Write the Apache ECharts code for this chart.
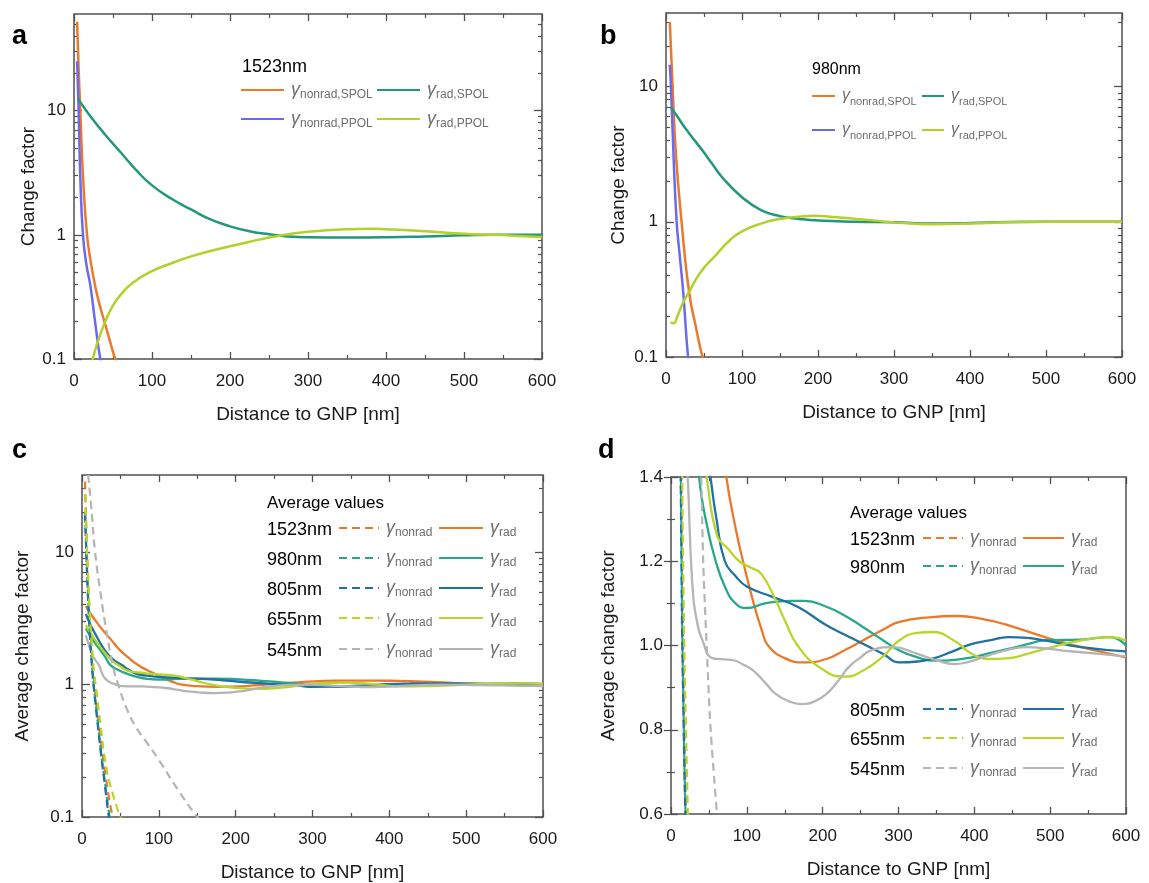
<!DOCTYPE html>
<html><head><meta charset="utf-8">
<script src="https://cdn.jsdelivr.net/npm/echarts@6/dist/echarts.min.js"></script>
<style>html,body{margin:0;padding:0;background:#fff}#c{width:1149px;height:883px}</style>
</head><body><div id="c"></div>
<script>
// ---------- tick labels ----------
const xTickLabels = [0, 100, 200, 300, 400, 500, 600];
const logMajorTicks = [0.1, 1, 10];
const logMinorTicks = [0.2,0.3,0.4,0.5,0.6,0.7,0.8,0.9,2,3,4,5,6,7,8,9,20,30,40,50];
const linTickLabels = [0.6, 0.8, 1.0, 1.2, 1.4];

// ---------- panel a (1523nm) ----------
const aNonradS_x = [4, 6, 8, 11.5, 16.7, 22, 27, 33, 39, 46, 53, 60];
const aNonradS_y = [52, 21, 10.3, 3.0, 1.0, 0.58, 0.39, 0.27, 0.2, 0.14, 0.1, 0.08];
const aNonradP_x = [4, 6, 8, 11.5, 16, 21, 27, 33.7, 40];
const aNonradP_y = [25, 10, 3.0, 1.0, 0.57, 0.39, 0.2, 0.1, 0.065];
const aRadS_x = [5, 20, 40, 60, 80, 100, 125, 150, 175, 200, 225, 250, 275, 300, 350, 400, 450, 500, 550, 600];
const aRadS_y = [12.5, 9.2, 6.4, 4.6, 3.3, 2.5, 1.95, 1.6, 1.33, 1.17, 1.07, 1.01, 0.97, 0.955, 0.95, 0.955, 0.97, 0.99, 1.0, 1.0];
const aRadP_x = [20, 24, 30, 40, 50, 60, 75, 100, 125, 150, 175, 200, 225, 250, 275, 300, 350, 380, 400, 450, 500, 540, 570, 600];
const aRadP_y = [0.075, 0.1, 0.135, 0.2, 0.27, 0.33, 0.41, 0.51, 0.59, 0.67, 0.74, 0.81, 0.88, 0.95, 1.01, 1.06, 1.11, 1.12, 1.11, 1.07, 1.02, 1.0, 0.98, 0.96];

// ---------- panel b (980nm) ----------
const bNonradS_x = [5, 8.7, 13, 20.5, 30.5, 40, 48, 55];
const bNonradS_y = [30, 10, 3.2, 1.0, 0.3, 0.16, 0.1, 0.075];
const bNonradP_x = [5, 6.5, 10, 14, 18, 22.7, 29, 34];
const bNonradP_y = [14.5, 10, 3.0, 1.0, 0.57, 0.3, 0.1, 0.06];
const bRadS_x = [6, 15, 25, 40, 50, 60, 75, 100, 125, 150, 175, 200, 250, 300, 350, 400, 450, 500, 600];
const bRadS_y = [7.1, 6.0, 4.95, 3.85, 3.25, 2.72, 2.1, 1.52, 1.22, 1.1, 1.05, 1.02, 1.0, 0.99, 0.97, 0.98, 0.995, 1.0, 1.0];
const bRadP_x = [6, 10, 15, 22, 30, 45, 66, 85, 100, 125, 150, 175, 195, 225, 250, 275, 300, 350, 400, 450, 500, 600];
const bRadP_y = [0.18, 0.178, 0.2, 0.25, 0.3, 0.42, 0.57, 0.74, 0.85, 0.97, 1.05, 1.09, 1.11, 1.08, 1.05, 1.02, 0.99, 0.96, 0.97, 0.99, 1.0, 1.0];

// ---------- panels c & d (averages) ----------
const n1523_x = [4, 6, 8, 10, 12, 14, 16, 20, 25, 30, 35, 40, 45];
const n1523_y = [34, 13, 6, 3.2, 2.0, 1.35, 1.0, 0.6, 0.36, 0.22, 0.14, 0.1, 0.075];
const n980_x = [4, 6, 8, 10, 12, 14, 16, 20, 25, 30, 36, 40];
const n980_y = [20, 9, 4.5, 2.6, 1.7, 1.2, 0.9, 0.55, 0.3, 0.18, 0.1, 0.075];
const n805_x = [4, 6, 8, 10, 12, 14, 16, 20, 25, 30, 35, 40];
const n805_y = [19, 8.5, 4.3, 2.5, 1.65, 1.15, 0.88, 0.53, 0.29, 0.17, 0.1, 0.07];
const n655_x = [4, 6, 8, 10, 12, 14, 16, 20, 25, 30, 35, 40, 45, 50, 55];
const n655_y = [27, 12, 6.2, 3.6, 2.3, 1.6, 1.2, 0.78, 0.45, 0.27, 0.19, 0.15, 0.12, 0.1, 0.085];
const n545_x = [8, 12, 17, 25, 33, 40, 47, 58, 69, 85, 100, 125, 150, 165];
const n545_y = [38, 22, 10, 4.5, 2.3, 1.4, 1.0, 0.66, 0.49, 0.36, 0.27, 0.16, 0.1, 0.08];

const r1523_x = [5, 10, 20, 30, 40, 50, 60, 73, 85, 95, 109, 120, 128, 150, 176, 205, 230, 253, 280, 301, 340, 378, 410, 445, 493, 541, 600];
const r1523_y = [3.9, 3.5, 2.9, 2.45, 2.1, 1.8, 1.6, 1.4, 1.28, 1.2, 1.1, 1.035, 1.0, 0.97, 0.96, 0.968, 0.99, 1.012, 1.038, 1.056, 1.067, 1.07, 1.063, 1.048, 1.02, 0.996, 0.972];
const r980_x = [5, 10, 20, 30, 37, 48, 59, 71, 85, 100, 124, 157, 176, 205, 230, 253, 280, 301, 325, 349, 375, 397, 420, 445, 470, 493, 541, 579, 600];
const r980_y = [2.65, 2.35, 1.95, 1.62, 1.4, 1.28, 1.2, 1.14, 1.1, 1.089, 1.1, 1.106, 1.106, 1.092, 1.07, 1.044, 1.012, 0.988, 0.972, 0.964, 0.966, 0.972, 0.982, 0.992, 1.003, 1.012, 1.014, 1.02, 1.0];
const r805_x = [5, 10, 20, 30, 40, 52, 60, 71, 85, 100, 133, 167, 205, 230, 253, 280, 301, 325, 344, 370, 397, 420, 445, 470, 493, 541, 600];
const r805_y = [3.4, 2.9, 2.25, 1.8, 1.55, 1.4, 1.3, 1.2, 1.165, 1.14, 1.116, 1.092, 1.048, 1.025, 1.004, 0.98, 0.96, 0.962, 0.968, 0.985, 1.004, 1.012, 1.02, 1.018, 1.012, 0.996, 0.986];
const r655_x = [5, 10, 20, 30, 40, 47, 61, 75, 90, 105, 119, 138, 150, 167, 196, 229, 253, 280, 301, 325, 344, 373, 397, 420, 445, 470, 493, 541, 579, 600];
const r655_y = [2.8, 2.5, 2.05, 1.72, 1.5, 1.4, 1.26, 1.23, 1.2, 1.185, 1.17, 1.108, 1.06, 1.0, 0.948, 0.926, 0.94, 0.975, 1.012, 1.03, 1.032, 1.012, 0.98, 0.968, 0.97, 0.98, 0.992, 1.012, 1.02, 1.012];
const r545_x = [5, 10, 15, 22, 28, 35, 44, 50, 61, 80, 95, 109, 125, 138, 155, 172, 190, 205, 220, 234, 250, 263, 292, 325, 350, 373, 390, 411, 440, 469, 517, 565, 600];
const r545_y = [2.35, 1.9, 1.6, 1.4, 1.15, 1.05, 1.0, 0.975, 0.968, 0.966, 0.955, 0.94, 0.91, 0.885, 0.868, 0.861, 0.868, 0.885, 0.915, 0.948, 0.972, 0.988, 0.996, 0.98, 0.965, 0.956, 0.96, 0.972, 0.988, 0.996, 0.988, 0.98, 0.974];

// ---------- styles ----------
const FONT = "'Liberation Sans', Arial, sans-serif";
const C = {orange:'#ea7a2b', teal:'#22977c', violet:'#6a6af0', lime:'#b3d12a',
           teal2:'#28a88a', blue2:'#1f72a2', lime2:'#b9d52c', gray:'#b5b5b5'};
const TXT = '#1a1a1a', AX = '#505050';

const panels = [
  {left:74,  top:14,  width:468, height:345, kind:'log', max:60, yName:'Change factor', yGap:36},
  {left:666, top:13,  width:456, height:344, kind:'log', max:35, yName:'Change factor', yGap:38},
  {left:82,  top:475, width:461, height:346, kind:'log', max:38, yName:'Average change factor', yGap:50},
  {left:671, top:477, width:455, height:337, kind:'lin', min:0.6, max:1.4, yName:'Average change factor', yGap:53}
];

const grid = [], xAxis = [], yAxis = [], yMain = [];
panels.forEach((p, i) => {
  grid.push({left:p.left, top:p.top, width:p.width, height:p.height, show:true,
             borderColor:AX, borderWidth:1.5, backgroundColor:'rgba(0,0,0,0)'});
  const xBase = {gridIndex:i, type:'value', min:0, max:600, interval:100,
    axisLine:{show:false}, splitLine:{show:false},
    axisTick:{inside:true, length:7, lineStyle:{color:AX, width:1.3}},
    minorTick:{show:true, splitNumber:2, length:4, lineStyle:{color:AX, width:1.2}}};
  xAxis.push(Object.assign({}, xBase, {position:'bottom',
    axisLabel:{fontSize:17, color:TXT, fontFamily:FONT, margin:14},
    name:'Distance to GNP [nm]', nameLocation:'middle', nameGap:46,
    nameTextStyle:{fontSize:19, color:TXT, fontFamily:FONT}}));
  xAxis.push(Object.assign({}, xBase, {position:'top', axisLabel:{show:false}}));
  if (p.kind === 'log') {
    const minor = logMinorTicks.filter(v => v < p.max);
    const base = {gridIndex:i, type:'log', logBase:10, min:0.1, max:p.max,
      axisLine:{show:false}, splitLine:{show:false}, minorTick:{show:false}};
    yMain.push(yAxis.length);
    yAxis.push(Object.assign({}, base, {position:'left',
      axisTick:{inside:true, length:8, customValues:logMajorTicks, lineStyle:{color:AX, width:1.3}},
      axisLabel:{customValues:logMajorTicks, fontSize:17, color:TXT, fontFamily:FONT, margin:8,
                 formatter: v => String(+(+v).toPrecision(3))},
      name:p.yName, nameLocation:'middle', nameGap:p.yGap,
      nameTextStyle:{fontSize:19, color:TXT, fontFamily:FONT}}));
    yAxis.push(Object.assign({}, base, {position:'left', axisLabel:{show:false},
      axisTick:{inside:true, length:4, customValues:minor, lineStyle:{color:AX, width:1.2}}}));
    yAxis.push(Object.assign({}, base, {position:'right', axisLabel:{show:false},
      axisTick:{inside:true, length:8, customValues:logMajorTicks, lineStyle:{color:AX, width:1.3}}}));
    yAxis.push(Object.assign({}, base, {position:'right', axisLabel:{show:false},
      axisTick:{inside:true, length:4, customValues:minor, lineStyle:{color:AX, width:1.2}}}));
  } else {
    const base = {gridIndex:i, type:'value', min:p.min, max:p.max, interval:0.2,
      axisLine:{show:false}, splitLine:{show:false},
      axisTick:{inside:true, length:7, lineStyle:{color:AX, width:1.3}},
      minorTick:{show:true, splitNumber:2, length:4, lineStyle:{color:AX, width:1.2}}};
    yMain.push(yAxis.length);
    yAxis.push(Object.assign({}, base, {position:'left',
      axisLabel:{fontSize:17, color:TXT, fontFamily:FONT, margin:8, formatter: v => (+v).toFixed(1)},
      name:p.yName, nameLocation:'middle', nameGap:p.yGap,
      nameTextStyle:{fontSize:19, color:TXT, fontFamily:FONT}}));
    yAxis.push(Object.assign({}, base, {position:'right', axisLabel:{show:false}}));
  }
});

const pair = (xs, ys) => xs.map((x, k) => [x, ys[k]]);
const DASH = [8, 5];
const specs = [
  {name:'a-nonrad-SPOL', p:0, xs:aNonradS_x, ys:aNonradS_y, color:C.orange, w:2.5},
  {name:'a-nonrad-PPOL', p:0, xs:aNonradP_x, ys:aNonradP_y, color:C.violet, w:2.5},
  {name:'a-rad-SPOL',    p:0, xs:aRadS_x, ys:aRadS_y, color:C.teal, w:2.5},
  {name:'a-rad-PPOL',    p:0, xs:aRadP_x, ys:aRadP_y, color:C.lime, w:2.5},
  {name:'b-nonrad-SPOL', p:1, xs:bNonradS_x, ys:bNonradS_y, color:C.orange, w:2.5},
  {name:'b-nonrad-PPOL', p:1, xs:bNonradP_x, ys:bNonradP_y, color:C.violet, w:2.5},
  {name:'b-rad-SPOL',    p:1, xs:bRadS_x, ys:bRadS_y, color:C.teal, w:2.5},
  {name:'b-rad-PPOL',    p:1, xs:bRadP_x, ys:bRadP_y, color:C.lime, w:2.5}
];
const avg = [
  {wl:'1523', nx:n1523_x, ny:n1523_y, rx:r1523_x, ry:r1523_y, color:C.orange},
  {wl:'980',  nx:n980_x,  ny:n980_y,  rx:r980_x,  ry:r980_y,  color:C.teal2},
  {wl:'805',  nx:n805_x,  ny:n805_y,  rx:r805_x,  ry:r805_y,  color:C.blue2},
  {wl:'655',  nx:n655_x,  ny:n655_y,  rx:r655_x,  ry:r655_y,  color:C.lime2},
  {wl:'545',  nx:n545_x,  ny:n545_y,  rx:r545_x,  ry:r545_y,  color:C.gray}
];
[2, 3].forEach(p => {
  const tag = p === 2 ? 'c' : 'd';
  avg.forEach(s => {
    specs.push({name:tag + '-' + s.wl + '-nonrad', p, xs:s.nx, ys:s.ny, color:s.color, w:2.2, dash:true});
    specs.push({name:tag + '-' + s.wl + '-rad', p, xs:s.rx, ys:s.ry, color:s.color, w:2.3});
  });
});
const series = specs.map(s => ({
  name:s.name, type:'line', xAxisIndex:s.p * 2, yAxisIndex:yMain[s.p],
  data:pair(s.xs, s.ys), showSymbol:false, symbol:'none', smooth:0.5,
  clip:true, z: s.dash ? 3 : 2, animation:false,
  lineStyle:{color:s.color, width:s.w, type: s.dash ? DASH : 'solid'},
  itemStyle:{color:s.color}
}));

// ---------- legends ----------
const subOf = name => {
  const parts = name.split('-');
  if (parts[0] === 'a' || parts[0] === 'b') return parts[1] + ',' + parts[2];
  return parts[2];
};
function legendItem(name, left, top, w, big) {
  return {left, top, padding:0, itemWidth:w, itemHeight:14, itemGap:0, selectedMode:false,
    itemStyle:{opacity:0},
    data:[name], formatter: n => '{g|γ}{s|' + subOf(n) + '}',
    textStyle:{color:'#6e6e6e', fontFamily:FONT,
      rich:{g:{fontSize: big ? 18 : 16, fontStyle:'italic', fontFamily:FONT, color:'#6e6e6e', lineHeight:22, padding:[0,0,0,2]},
            s:{fontSize: big ? 12 : 11, fontFamily:FONT, color:'#6e6e6e', lineHeight:12, verticalAlign:'bottom'}}}};
}
const legend = [
  legendItem('a-nonrad-SPOL', 240, 81, 43, true),
  legendItem('a-rad-SPOL',    376, 81, 43, true),
  legendItem('a-nonrad-PPOL', 240, 110, 43, true),
  legendItem('a-rad-PPOL',    376, 110, 43, true),
  legendItem('b-nonrad-SPOL', 811, 88, 23, false),
  legendItem('b-rad-SPOL',    921, 88, 22, false),
  legendItem('b-nonrad-PPOL', 811, 122, 23, false),
  legendItem('b-rad-PPOL',    921, 122, 22, false)
];
const cRows = [530, 560, 590, 620, 651];
const dRows = [540, 568, 711, 740, 770];
avg.forEach((s, k) => {
  legend.push(legendItem('c-' + s.wl + '-nonrad', 338, cRows[k] - 11, 40, true));
  legend.push(legendItem('c-' + s.wl + '-rad',    438, cRows[k] - 11, 44, true));
  legend.push(legendItem('d-' + s.wl + '-nonrad', 922, dRows[k] - 11, 40, true));
  legend.push(legendItem('d-' + s.wl + '-rad',    1022, dRows[k] - 11, 41, true));
});

// ---------- texts ----------
const T = (text, x, y, size, weight) => ({type:'text', x, y, silent:true,
  style:{text, fill:'#000', font:(weight || 'normal') + ' ' + size + 'px ' + FONT, align:'left', verticalAlign:'middle'}});
const graphic = [
  T('a', 12, 37, 27, 'bold'), T('b', 600, 37, 27, 'bold'),
  T('c', 12, 451, 27, 'bold'), T('d', 598, 451, 27, 'bold'),
  T('1523nm', 242, 67, 18), T('980nm', 812, 70, 16),
  T('Average values', 267, 503, 17), T('Average values', 850, 513, 17)
];
avg.forEach((s, k) => {
  graphic.push(T(s.wl + 'nm', 267, cRows[k], 18));
  graphic.push(T(s.wl + 'nm', 850, dRows[k], 18));
});

const chart = echarts.init(document.getElementById('c'));
chart.setOption({animation:false, backgroundColor:'#fff', grid, xAxis, yAxis, series, legend, graphic});
</script></body></html>
